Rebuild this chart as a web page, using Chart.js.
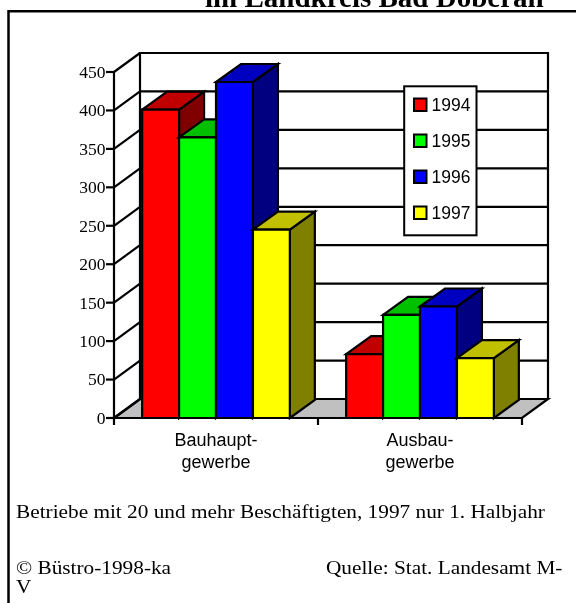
<!DOCTYPE html>
<html><head><meta charset="utf-8">
<script src="https://cdn.jsdelivr.net/npm/chart.js@4/dist/chart.umd.min.js"></script>
<style>
html,body{margin:0;padding:0;background:#fff;}
#wrap{position:relative;width:576px;height:603px;overflow:hidden;background:#fff;}
canvas{position:absolute;left:0;top:0;}
.t{position:absolute;white-space:nowrap;font-family:"Liberation Serif","Times New Roman",serif;color:#000;}
.f{font-size:19px;line-height:19px;transform:scaleX(1.12);transform-origin:0 0;}
</style></head><body>
<div id="wrap">
<canvas id="c" width="576" height="603"></canvas>
<div class="t" style="left:205px;top:-17.5px;font-weight:bold;font-size:29px;line-height:29px;">im Landkreis Bad Doberan</div>
<div class="t f" style="left:16px;top:502.4px;">Betriebe mit 20 und mehr Beschäftigten, 1997 nur 1. Halbjahr</div>
<div class="t f" style="left:16px;top:558.4px;">© Büstro-1998-ka</div>
<div class="t f" style="left:325.7px;top:557.5px;">Quelle: Stat. Landesamt M-</div>
<div class="t f" style="left:16px;top:577.4px;">V</div>
</div>
<script>
const categories = [["Bauhaupt-","gewerbe"],["Ausbau-","gewerbe"]];
const seriesLabels = ["1994","1995","1996","1997"];
const values1994 = [401, 83];
const values1995 = [365, 134];
const values1996 = [437, 145];
const values1997 = [245, 78];
const yTickValues = [0,50,100,150,200,250,300,350,400,450];

const frontColors = ["#FF0000","#00FF00","#0000FF","#FFFF00"];
const topColors = ["#C00000","#00C000","#0000C0","#C0C000"];
const sideColors = ["#800000","#008000","#000080","#808000"];
const seriesValues = [values1994, values1995, values1996, values1997];

const DX = 26, DY = 19;   // depth of wall/floor
const BDX = 25, BDY = 18; // depth of bars

function line(ctx,x1,y1,x2,y2){ctx.beginPath();ctx.moveTo(x1,y1);ctx.lineTo(x2,y2);ctx.stroke();}
function poly(ctx,pts,fill){ctx.beginPath();ctx.moveTo(pts[0][0],pts[0][1]);for(let i=1;i<pts.length;i++)ctx.lineTo(pts[i][0],pts[i][1]);ctx.closePath();ctx.fillStyle=fill;ctx.fill();ctx.stroke();}

const threeD = {
  id:'threeD',
  beforeDatasetsDraw(chart){
    const ctx = chart.ctx;
    const xs = chart.scales.x, ys = chart.scales.y;
    const L = chart.chartArea.left, R = chart.chartArea.right;
    const y0 = ys.getPixelForValue(0), yTop = ys.getPixelForValue(yTickValues[yTickValues.length-1]);
    ctx.save();
    // outer frame
    ctx.strokeStyle='#000'; ctx.lineWidth=2.5;
    ctx.beginPath(); ctx.moveTo(8.5,603); ctx.lineTo(8.5,11.2); ctx.lineTo(576,11.2); ctx.stroke();

    ctx.lineWidth=2.2; ctx.lineJoin='miter';
    // floor
    poly(ctx,[[L,y0],[R,y0],[R+DX,y0-DY],[L+DX,y0-DY]],'#C0C0C0');
    // grid + side wall diagonals + ticks
    yTickValues.forEach(v=>{
      const y = ys.getPixelForValue(v);
      line(ctx,L-8,y,L,y);
      line(ctx,L,y,L+DX,y-DY);
      line(ctx,L+DX,y-DY,R+DX,y-DY);
    });
    line(ctx,L,yTop-1,L,y0+1);
    line(ctx,L+DX,yTop-DY-1,L+DX,y0-DY+1);
    line(ctx,R+DX,yTop-DY-1,R+DX,y0-DY+1);
    line(ctx,L-1,y0,R,y0);
    // x ticks at category boundaries
    for(let i=0;i<=categories.length;i++){
      const x = xs.getPixelForValue(i-0.5);
      line(ctx,x,y0,x,y0+7);
    }
    // y tick labels
    ctx.fillStyle='#000';
    ctx.font='17.5px "Liberation Serif"';
    ctx.textAlign='right'; ctx.textBaseline='alphabetic';
    yTickValues.forEach(v=>{
      const y = ys.getPixelForValue(v);
      ctx.fillText(String(v), L-8.5, y+5.9);
    });
    // category labels
    ctx.font='18px "Liberation Sans"'; ctx.textAlign='center';
    categories.forEach((lab,i)=>{
      const x = xs.getPixelForValue(i);
      ctx.fillText(lab[0], x, y0+28.3);
      ctx.fillText(lab[1], x, y0+50);
    });
    // bars
    for(let i=0;i<categories.length;i++){
      for(let j=0;j<chart.data.datasets.length;j++){
        const el = chart.getDatasetMeta(j).data[i];
        const x0 = el.x - el.width/2, x1 = el.x + el.width/2;
        const yt = el.y, yb = el.base;
        poly(ctx,[[x1,yt],[x1+BDX,yt-BDY],[x1+BDX,yb-BDY],[x1,yb]],sideColors[j]);
        poly(ctx,[[x0,yt],[x1,yt],[x1+BDX,yt-BDY],[x0+BDX,yt-BDY]],topColors[j]);
        poly(ctx,[[x0,yt],[x1,yt],[x1,yb],[x0,yb]],frontColors[j]);
      }
    }
    // legend
    ctx.lineWidth=2;
    ctx.fillStyle='#fff';
    ctx.fillRect(404.2,86.3,72.3,149); ctx.strokeRect(404.2,86.3,72.3,149);
    ctx.font='17.5px "Liberation Sans"'; ctx.textAlign='left';
    chart.data.datasets.forEach((ds,j)=>{
      const yc = 105 + j*36;
      ctx.fillStyle = ds.backgroundColor;
      ctx.fillRect(414,yc-6.5,12.5,12.5); ctx.strokeRect(414,yc-6.5,12.5,12.5);
      ctx.fillStyle='#000';
      ctx.fillText(ds.label, 431.5, yc+6.3);
    });
    ctx.restore();
    return false;
  }
};

new Chart(document.getElementById('c').getContext('2d'),{
  type:'bar',
  data:{
    labels: categories,
    datasets: seriesLabels.map((s,j)=>({label:s,data:seriesValues[j],backgroundColor:frontColors[j],borderColor:'#000',borderWidth:2}))
  },
  options:{
    responsive:false, animation:false, devicePixelRatio:1,
    layout:{padding:{left:114,right:54,top:72,bottom:185}},
    plugins:{legend:{display:false},tooltip:{enabled:false}},
    scales:{x:{display:false,offset:true},y:{display:false,min:0,max:450}},
    datasets:{bar:{barPercentage:1,categoryPercentage:0.724}}
  },
  plugins:[threeD]
});
</script>
</body></html>
